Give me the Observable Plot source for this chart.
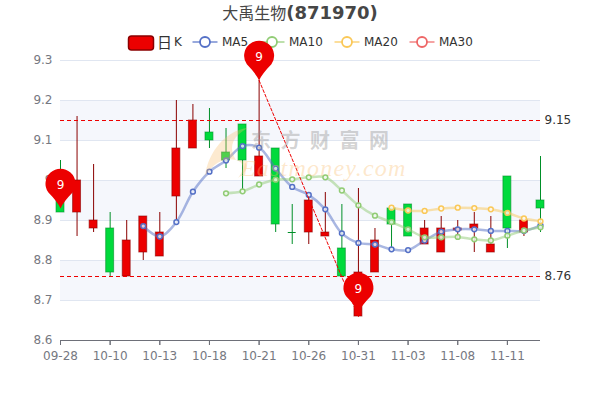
<!DOCTYPE html>
<html>
<head>
<meta charset="utf-8">
<script src="https://cdn.jsdelivr.net/npm/d3@7"></script>
<script src="https://cdn.jsdelivr.net/npm/@observablehq/plot@0.6"></script>
<style>
html,body{margin:0;padding:0;background:#fff;}
#wrap{position:relative;width:600px;height:400px;overflow:hidden;font-family:"DejaVu Sans","Noto Sans CJK SC",sans-serif;}
#title{position:absolute;left:0;top:1px;width:600px;text-align:center;color:#464646;font-size:16px;line-height:24px;white-space:nowrap;}
#title b{font-size:18px;font-weight:bold;}
.lg{position:absolute;top:34px;height:16px;line-height:16px;font-size:12px;color:#333;white-space:nowrap;}
.ic{position:absolute;top:30px;}
#chart{position:absolute;left:0;top:0;}
#chart svg{background:transparent;display:block;}
#wm{position:absolute;left:0;top:0;width:600px;height:400px;pointer-events:none;}
.wm1{position:absolute;left:251px;top:129px;font-family:"Noto Sans CJK SC";font-weight:700;font-size:20px;line-height:21px;letter-spacing:9.5px;color:rgba(150,150,150,.42);white-space:nowrap;}
.wm2{position:absolute;left:241px;top:156px;font-family:"Liberation Serif";font-style:italic;font-size:24px;line-height:24px;letter-spacing:1.2px;color:rgba(250,190,110,.36);white-space:nowrap;}
</style>
</head>
<body>
<div id="wrap">
  <div id="title">大禹生物<b>(871970)</b></div>
  <div id="legend"></div>
  <div id="chart"></div>
  <div id="wm">
    <svg width="600" height="400" style="position:absolute;left:0;top:0"><path d="M248 128C226 130 208 152 205 176C216 160 226 158 236 160C228 148 232 136 248 128Z" fill="rgba(250,190,110,.32)"/><path d="M236 160C243 162 246 168 238 178C250 170 250 160 236 160Z" fill="rgba(250,190,110,.3)"/></svg>
    <div class="wm1">东方财富网</div>
    <div class="wm2">Eastmoney.com</div>
  </div>
</div>
<script>
const dates = ["09-28","10-10","10-13","10-18","10-21","10-26","10-31","11-03","11-08","11-11"];
const dateIndex = [0,3,6,9,12,15,18,21,24,27];
const opens  = [8.98,8.92,8.88,8.88,8.76,8.82,8.81,8.96,9.08,9.12,9.07,9.14,9.01,9.08,8.87,8.87,8.86,8.83,8.66,8.77,8.93,8.94,8.84,8.82,8.875,8.88,8.82,9.01,8.87,8.95];
const closes = [8.92,9.00,8.90,8.77,8.85,8.91,8.87,9.08,9.15,9.10,9.05,9.05,9.06,8.89,8.87,8.95,8.87,8.76,8.77,8.85,8.89,8.86,8.88,8.88,8.88,8.89,8.84,8.88,8.90,8.93];
const lows   = [8.92,8.86,8.87,8.76,8.76,8.80,8.81,8.90,9.08,9.08,9.03,8.975,9.01,8.87,8.84,8.84,8.86,8.76,8.66,8.77,8.83,8.86,8.84,8.82,8.85,8.82,8.82,8.83,8.86,8.87];
const highs  = [9.05,9.16,9.04,8.92,8.90,8.91,8.92,9.20,9.19,9.18,9.13,9.14,9.25,9.08,8.94,8.96,8.97,8.94,8.98,8.88,8.93,8.94,8.90,8.91,8.90,8.92,8.91,9.01,8.90,9.06];
const ma5  = [null,null,null,null,null,8.886,8.86,8.896,8.972,9.022,9.05,9.086,9.082,9.03,8.984,8.964,8.928,8.868,8.844,8.84,8.828,8.826,8.85,8.872,8.878,8.878,8.874,8.874,8.874,8.888];
const ma10 = [null,null,null,null,null,null,null,null,null,null,8.968,8.973,8.99,9.002,9.003,9.008,9.008,8.975,8.938,8.912,8.896,8.878,8.858,8.858,8.859,8.853,8.85,8.862,8.875,8.883];
const ma20 = [null,null,null,null,null,null,null,null,null,null,null,null,null,null,null,null,null,null,null,null,8.932,8.925,8.924,8.93,8.932,8.931,8.928,8.919,8.905,8.898];
const yTicks = [8.6,8.7,8.8,8.9,9,9.1,9.2,9.3];
const bands = [[8.7,8.8],[8.9,9.0],[9.1,9.2]];
const avgLines = [9.15,8.76];
const avgLabels = ["9.15","8.76"];
const pinIdx = [0,12,18];
const pinTip = [8.93,9.25,8.67];
const pinText = ["9","9","9"];
const trendIdx = [12,18];
const trendVal = [9.25,8.66];
const legendNames = ["MA5","MA10","MA20","MA30"];
const legendColors = ["#5470c6","#91cc75","#fac858","#ee6666"];
const legendX = [205,272,347,422];
const upFill="#ec0000",upLine="#8a0000",downFill="#00da3c",downLine="#008f28",axisInk="#767881";

const rows = opens.map((o,i)=>({i,o,c:closes[i],l:lows[i],h:highs[i],up:closes[i]>o}));
const flat = rows.filter(d=>d.o===d.c);
const series = a => a.map((v,i)=>({i,v})).filter(d=>d.v!=null);
const pinSymbol = {draw(ctx,size){
  const r=Math.sqrt(size/Math.PI),h=1.65*r,a=35*Math.PI/180,b=145*Math.PI/180;
  ctx.moveTo(0,0);
  ctx.quadraticCurveTo(r*0.18,-r*0.42,Math.cos(a)*r,-h+Math.sin(a)*r);
  ctx.arc(0,-h,r,a,b,true);
  ctx.quadraticCurveTo(-r*0.18,-r*0.42,0,0);
  ctx.closePath();
}};
const maMarks=(a,color)=>[
  Plot.line(series(a),{x:"i",y:"v",stroke:color,strokeWidth:2.5,strokeOpacity:.5,curve:"catmull-rom"}),
  Plot.dot(series(a),{x:"i",y:"v",r:2.4,fill:"#fff",fillOpacity:.75,stroke:color,strokeWidth:1.5})
];
const chart = Plot.plot({
  width:600,height:400,marginTop:60,marginBottom:60,marginLeft:60,marginRight:60,
  style:{fontSize:"12px",fontFamily:'"DejaVu Sans",sans-serif',background:"transparent",overflow:"visible"},
  x:{domain:[0,29],range:[60,540],axis:null},
  y:{domain:[8.6,9.3],range:[340,60],axis:null},
  marks:[
    Plot.rect(bands,{x1:()=>0,x2:()=>29,y1:d=>d[0],y2:d=>d[1],fill:"#f5f7fc"}),
    Plot.ruleY(yTicks.slice(1),{x1:0,x2:29,stroke:"#e0e6f1",strokeWidth:1}),
    Plot.ruleY([8.6],{x1:0,x2:29,stroke:"#6e7079",strokeWidth:1}),
    Plot.axisY({ticks:yTicks,tickSize:0,tickPadding:8,label:null,fill:axisInk,stroke:"#6e7079",tickFormat:d=>String(d),anchor:"left"}),
    Plot.axisX({ticks:dateIndex,tickSize:5,tickPadding:6,label:null,fill:axisInk,stroke:"#6e7079",strokeOpacity:1,tickFormat:d=>dates[dateIndex.indexOf(d)],anchor:"bottom"}),
    Plot.ruleX(dateIndex,{y1:8.6,y2:8.5875,stroke:"#6e7079",strokeWidth:1}),
    Plot.ruleX(rows,{x:"i",y1:"l",y2:"h",stroke:d=>d.up?upLine:downLine,strokeWidth:1}),
    Plot.rect(rows,{x1:d=>d.i-.24,x2:d=>d.i+.24,y1:"o",y2:"c",fill:d=>d.up?upFill:downFill,stroke:d=>d.up?upLine:downLine,strokeOpacity:.6,strokeWidth:1}),
    Plot.ruleY(flat,{y:"o",x1:d=>d.i-.24,x2:d=>d.i+.24,stroke:downLine,strokeWidth:1}),
    ...maMarks(ma5,legendColors[0]),
    ...maMarks(ma10,legendColors[1]),
    ...maMarks(ma20,legendColors[2]),
    Plot.ruleY(avgLines,{x1:0,x2:29,stroke:"#ee0000",strokeWidth:1,strokeDasharray:"4 3"}),
    Plot.line(trendIdx.map((x,k)=>({x,y:trendVal[k]})),{x:"x",y:"y",stroke:"#ee0000",strokeWidth:1,strokeDasharray:"3 2"}),
    Plot.text(avgLines,{x:()=>29,y:d=>d,text:(d,k)=>avgLabels[k],dx:4,textAnchor:"start",fill:"#333"}),
    Plot.dot(pinIdx.map((x,k)=>({x,y:pinTip[k]})),{x:"x",y:"y",r:15,symbol:pinSymbol,fill:"#ec0000"}),
    Plot.text(pinIdx.map((x,k)=>({x,y:pinTip[k],t:pinText[k]})),{x:"x",y:"y",text:"t",dy:-23.5,fill:"#fff",fontSize:12})
  ]
});
document.getElementById("chart").append(chart);

// legend
const lg=document.getElementById("legend");
lg.innerHTML=`<svg class="ic" style="left:126px" width="30" height="24"><rect x="2.5" y="6" width="25" height="14" rx="3" fill="${upFill}" stroke="${upLine}" stroke-width="1.5"/></svg>
<div class="lg" style="left:157px;font-size:15px;font-family:'Noto Sans CJK SC'">日</div><div class="lg" style="left:174px">K</div>`+
legendNames.map((n,k)=>{
  const x=legendX[k];
  return `<svg class="ic" style="left:${x-13}px" width="26" height="24"><line x1="0.5" x2="25.5" y1="12" y2="12" stroke="${legendColors[k]}" stroke-width="2" stroke-opacity=".6"/><circle cx="13" cy="12" r="5" fill="#fff" stroke="${legendColors[k]}" stroke-width="1.8"/></svg>
  <div class="lg" style="left:${x+17}px">${n}</div>`;
}).join("");
</script>
</body>
</html>
